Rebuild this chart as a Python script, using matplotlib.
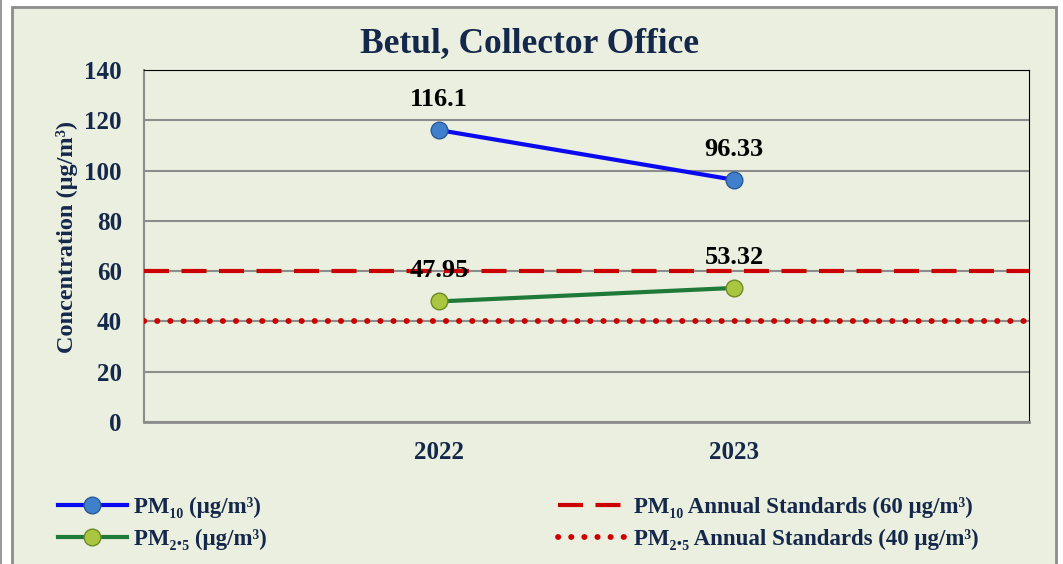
import matplotlib.pyplot as plt
from matplotlib.lines import Line2D
from matplotlib.patches import Rectangle

years = ["2022", "2023"]
pm10 = [116.1, 96.33]
pm25 = [47.95, 53.32]
pm10_std = 60
pm25_std = 40
yticks = [0, 20, 40, 60, 80, 100, 120, 140]

BG = "#EBEFDF"
NAVY = "#14284B"
DASH = (0, (6, 3))
DOT = (0, (0.05, 2.2))
plt.rcParams["font.family"] = ["Liberation Serif", "DejaVu Serif"]
plt.rcParams["font.weight"] = "bold"

fig = plt.figure(figsize=(10.63, 5.64), dpi=100)
fig.patch.set_facecolor("white")
# outer chart frame
fig.patches.append(Rectangle((12 / 1063, -0.01), (1056 - 12) / 1063, (564 - 7) / 564 + 0.01,
                             transform=fig.transFigure, facecolor=BG, edgecolor="#8C8C8C",
                             linewidth=2, zorder=-10))
fig.patches.append(Rectangle((0, -0.01), 2 / 1063, 1.02, transform=fig.transFigure,
                             facecolor="#9A9A9A", edgecolor="none", zorder=-10))

ax = fig.add_axes([144 / 1063, 1 - 422 / 564, (1029 - 144) / 1063, (422 - 70) / 564])
ax.set_facecolor(BG)

x = list(range(len(years)))
ax.axhline(pm10_std, color="#CC0000", linewidth=3, linestyle=DASH, zorder=3)
ax.axhline(pm25_std, color="#CC0000", linewidth=4.2, linestyle=DOT,
           dash_capstyle="round", zorder=3)
ax.plot(x, pm10, color="#0A0AF0", linewidth=3, marker="o", markersize=12,
        markerfacecolor="#3F7FCB", markeredgecolor="#2A5A95", markeredgewidth=1, zorder=4)
ax.plot(x, pm25, color="#1F7A3A", linewidth=3, marker="o", markersize=12,
        markerfacecolor="#A8C640", markeredgecolor="#6E8A25", markeredgewidth=1, zorder=4)

for xi, v in zip(x, pm10):
    ax.annotate(f"{v:g}", (xi, v), xytext=(0, 22), textcoords="offset points",
                ha="center", va="center", fontsize=19, fontweight="bold", color="black", zorder=5)
for xi, v in zip(x, pm25):
    ax.annotate(f"{v:g}", (xi, v), xytext=(0, 22), textcoords="offset points",
                ha="center", va="center", fontsize=19, fontweight="bold", color="black", zorder=5)

ax.set_xlim(-1, 2)
ax.set_ylim(0, 140)
ax.set_xticks(x)
ax.set_xticklabels(years)
ax.set_yticks(yticks)
ax.grid(axis="y", color="#8C8C8C", linewidth=1.5, zorder=1)
ax.set_axisbelow(True)
ax.tick_params(axis="both", length=0, labelsize=18, labelcolor=NAVY)
ax.tick_params(axis="y", pad=16)
ax.tick_params(axis="x", pad=14)
for lab in ax.get_xticklabels() + ax.get_yticklabels():
    lab.set_fontweight("bold")

ax.spines["left"].set_color("#8C8C8C")
ax.spines["bottom"].set_color("#8C8C8C")
ax.spines["left"].set_linewidth(1.5)
ax.spines["bottom"].set_linewidth(2)
ax.spines["top"].set_color("black")
ax.spines["right"].set_color("black")

ax.set_ylabel("Concentration (μg/m³)", fontsize=17.5, fontweight="bold", color=NAVY)
ax.yaxis.set_label_coords(-0.075, 0.525)
fig.text(530 / 1063, 1 - 44 / 564, "Betul, Collector Office", ha="center", va="center",
         fontsize=25.5, fontweight="bold", color=NAVY)

h1 = [Line2D([], [], color="#0A0AF0", linewidth=3, marker="o", markersize=12,
             markerfacecolor="#3F7FCB", markeredgecolor="#2A5A95"),
      Line2D([], [], color="#1F7A3A", linewidth=3, marker="o", markersize=12,
             markerfacecolor="#A8C640", markeredgecolor="#6E8A25")]
h2 = [Line2D([], [], color="#CC0000", linewidth=3, linestyle=DASH),
      Line2D([], [], color="#CC0000", linewidth=4.2, linestyle=DOT, dash_capstyle="round")]
leg_kw = dict(frameon=False, handlelength=3.0, handletextpad=0.3,
              labelspacing=0.45, borderpad=0, borderaxespad=0, labelcolor=NAVY,
              prop={"weight": "bold", "size": 16.5})
fig.legend(h1, ["PM₁₀ (μg/m³)", "PM₂.₅ (μg/m³)"], loc="upper left",
           bbox_to_anchor=(58 / 1063, 1 - 497 / 564), **leg_kw)
fig.legend(h2, ["PM₁₀ Annual Standards (60 μg/m³)", "PM₂.₅ Annual Standards (40 μg/m³)"],
           loc="upper left", bbox_to_anchor=(558 / 1063, 1 - 497 / 564), **leg_kw)

fig.savefig("out.png", dpi=100, facecolor=fig.get_facecolor())
